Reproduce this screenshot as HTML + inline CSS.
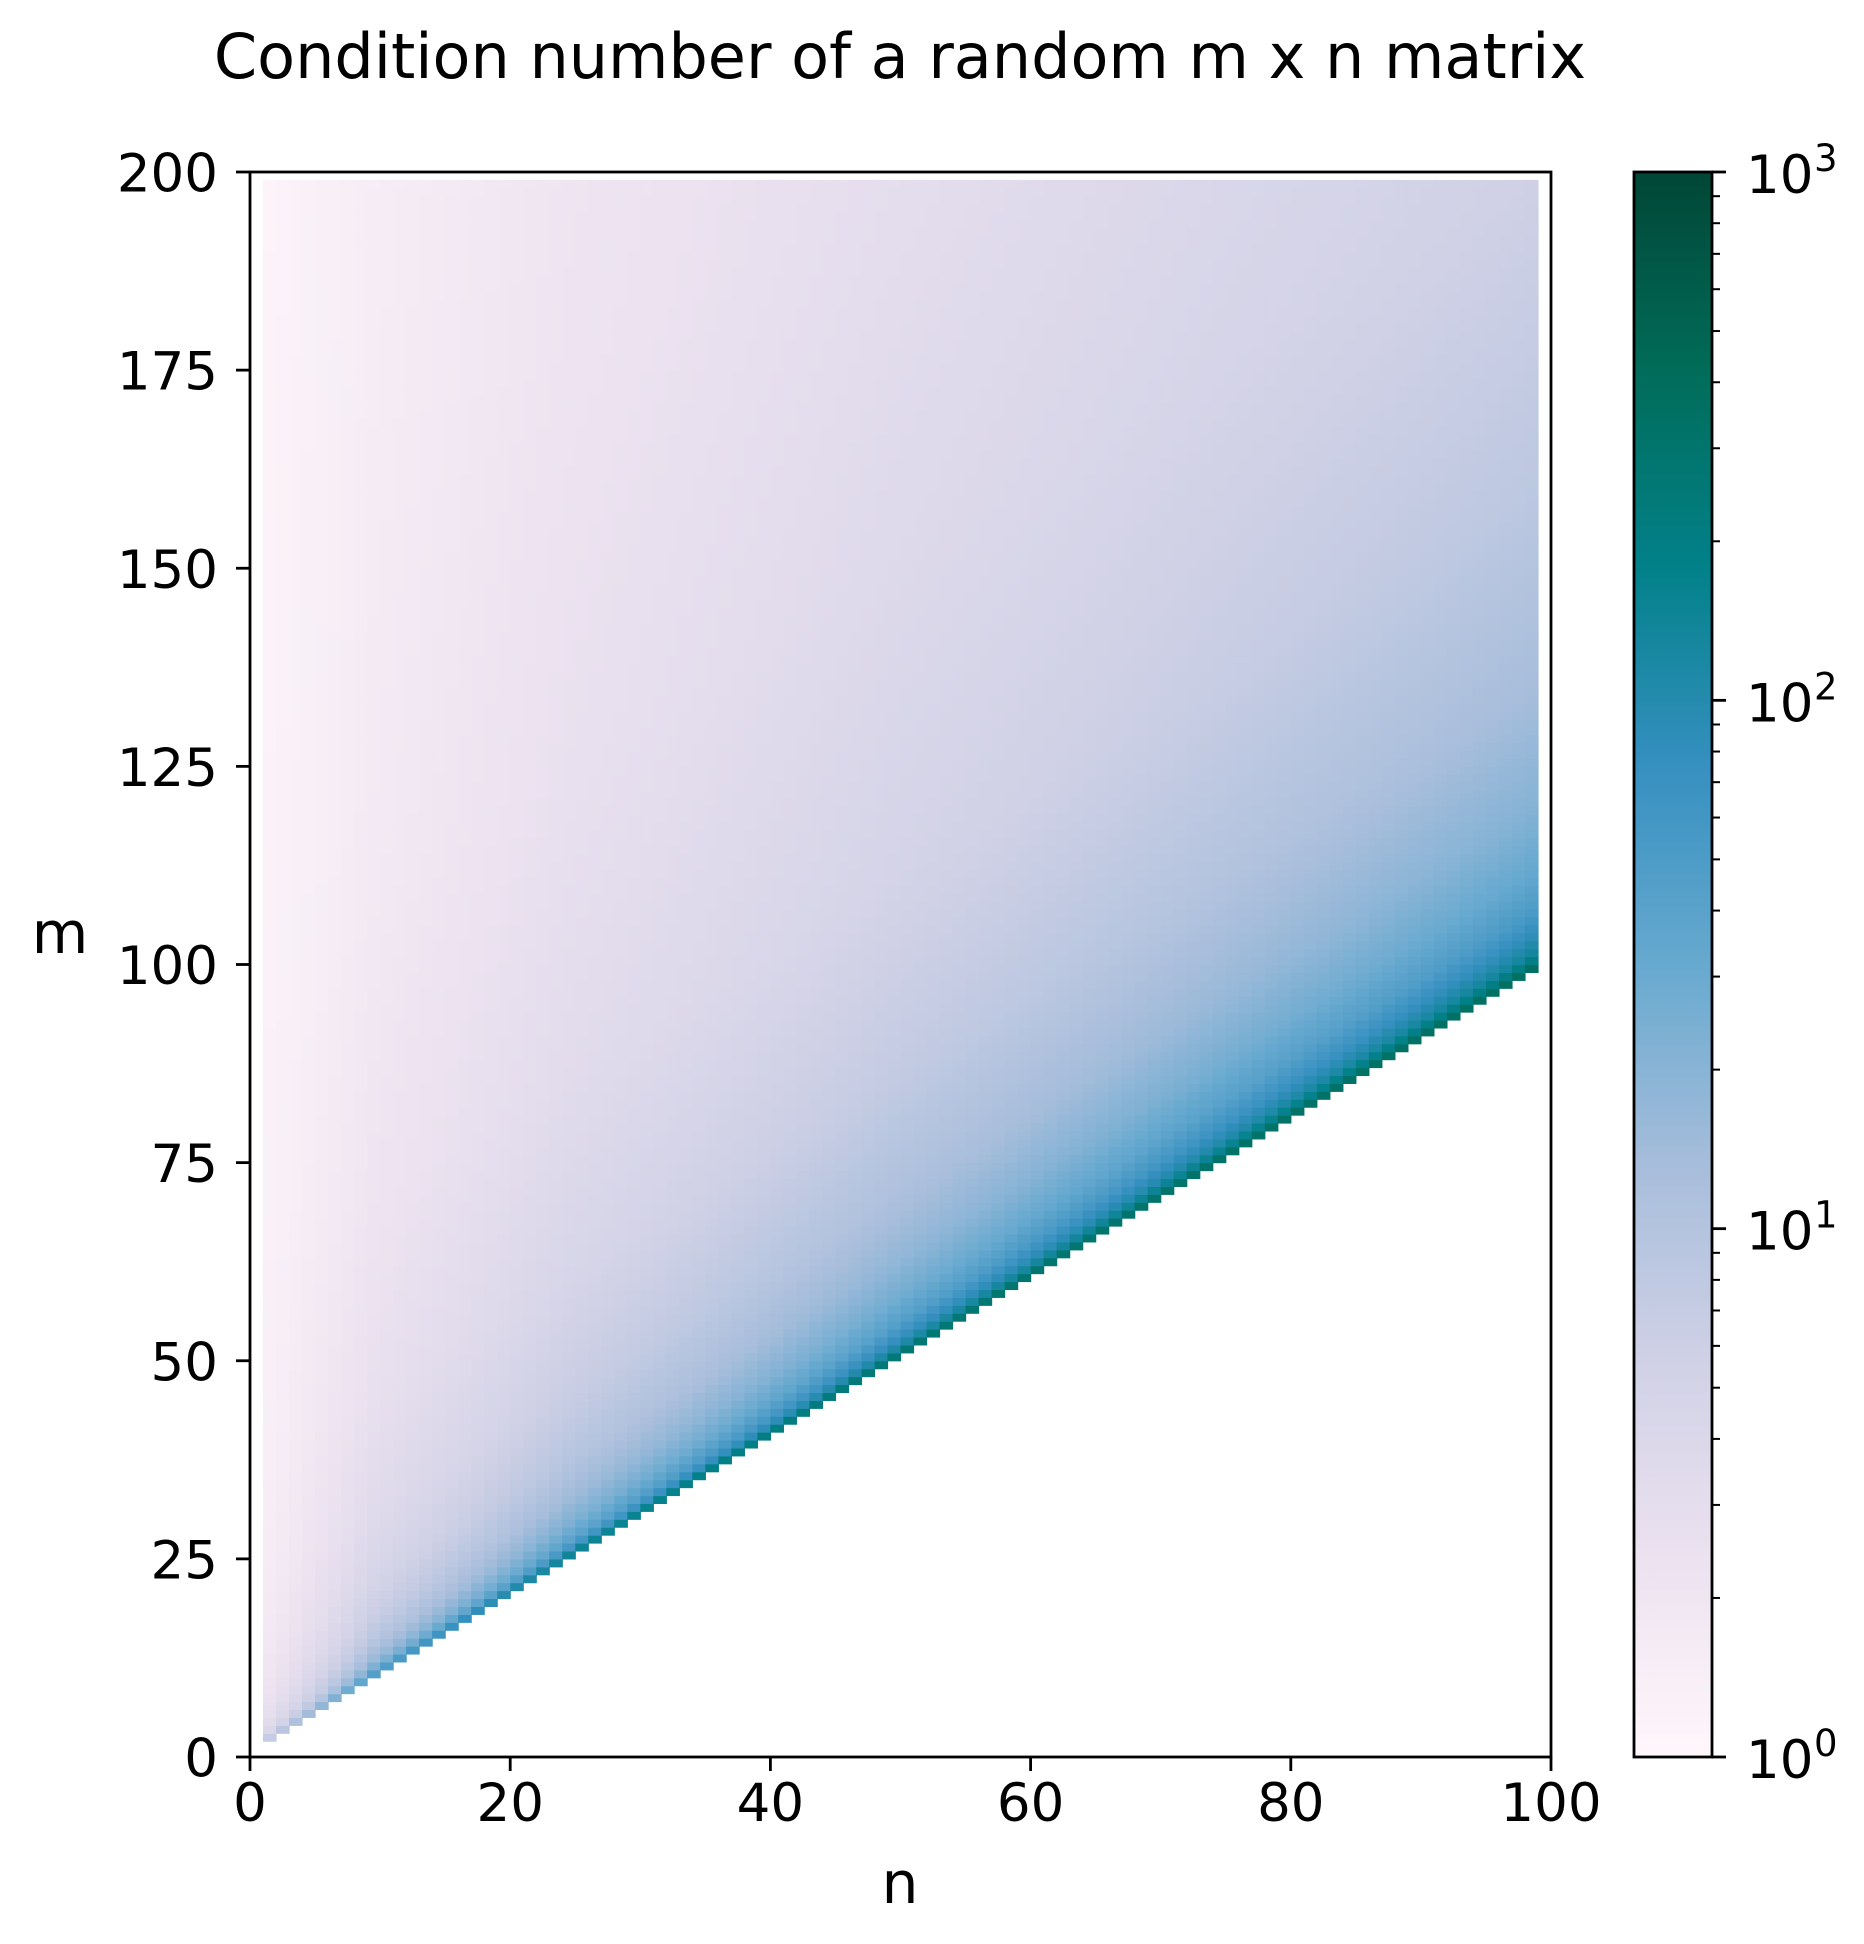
<!DOCTYPE html>
<html><head><meta charset="utf-8">
<style>
html,body{margin:0;padding:0;background:#fff;}
svg{display:block;font-family:"DejaVu Sans","Liberation Sans",sans-serif;}
</style></head>
<body>
<svg id="chart" width="1864" height="1944" viewBox="0 0 1864 1944" xmlns="http://www.w3.org/2000/svg">
<defs>
<linearGradient id="cbgrad" x1="0" y1="1" x2="0" y2="0">
<stop offset="0" stop-color="#fff7fb"/><stop offset="0.125" stop-color="#ece2f0"/><stop offset="0.25" stop-color="#d0d1e6"/><stop offset="0.375" stop-color="#a6bddb"/><stop offset="0.5" stop-color="#67a9cf"/><stop offset="0.625" stop-color="#3690c0"/><stop offset="0.75" stop-color="#02818a"/><stop offset="0.875" stop-color="#016c59"/><stop offset="1" stop-color="#014636"/>
</linearGradient>
</defs>
<text x="900" y="78" font-size="62" text-anchor="middle">Condition number of a random m x n matrix</text>
<g id="cells"></g>
<g id="axes"></g>
<g id="colorbar"></g>
<text x="900" y="1903" font-size="58" text-anchor="middle">n</text>
<text x="60" y="953" font-size="58" text-anchor="middle">m</text>
</svg>
<script>
// Data: log10(condition number) at sample column sizes n and row gaps (m - n)
const nKeys = [2, 10, 25, 50, 75, 100];
const gapKeys = [0, 1, 2, 4, 7, 12, 20, 35, 60, 100, 150, 200];
const logK_n2   = [0.85, 0.62, 0.52, 0.42, 0.34, 0.27, 0.21, 0.16, 0.12, 0.09, 0.07, 0.06];
const logK_n10  = [1.65, 1.35, 1.18, 0.98, 0.82, 0.67, 0.54, 0.42, 0.33, 0.25, 0.21, 0.18];
const logK_n25  = [2.15, 1.76, 1.57, 1.36, 1.17, 0.98, 0.82, 0.66, 0.52, 0.41, 0.34, 0.30];
const logK_n50  = [2.40, 2.05, 1.88, 1.64, 1.44, 1.24, 1.06, 0.87, 0.70, 0.57, 0.47, 0.42];
const logK_n75  = [2.50, 2.20, 2.02, 1.82, 1.61, 1.41, 1.21, 1.01, 0.83, 0.68, 0.57, 0.50];
const logK_n100 = [2.55, 2.30, 2.12, 1.94, 1.73, 1.52, 1.33, 1.12, 0.93, 0.76, 0.65, 0.58];
const xTicks = [0, 20, 40, 60, 80, 100];
const yTicks = [0, 25, 50, 75, 100, 125, 150, 175, 200];
const cbTicks = [0, 1, 2, 3];
const cmapColors = ["#fff7fb","#ece2f0","#d0d1e6","#a6bddb","#67a9cf","#3690c0","#02818a","#016c59","#014636"];

const table = [logK_n2, logK_n10, logK_n25, logK_n50, logK_n75, logK_n100];
const AX = {x0: 250, x1: 1551, y0: 1757, y1: 172};
function xs(v){ return AX.x0 + (v/100)*(AX.x1-AX.x0); }
function ys(v){ return AX.y0 - (v/200)*(AX.y0-AX.y1); }
function seg(keys, v){
  let i = 0; while (i < keys.length-2 && v > keys[i+1]) i++;
  let t = (v-keys[i])/(keys[i+1]-keys[i]); t = Math.max(0, Math.min(1, t));
  return [i, t];
}
function lookup(n, g){
  const [i, ti] = seg(nKeys, n); const [j, tj] = seg(gapKeys, g);
  const a = table[i][j]*(1-tj) + table[i][j+1]*tj;
  const b = table[i+1][j]*(1-tj) + table[i+1][j+1]*tj;
  return a*(1-ti) + b*ti;
}
function hex(c){ return [parseInt(c.slice(1,3),16),parseInt(c.slice(3,5),16),parseInt(c.slice(5,7),16)]; }
const cm = cmapColors.map(hex);
function color(lk){
  let t = Math.max(0, Math.min(1, lk/3)) * (cm.length-1);
  let k = Math.min(cm.length-2, Math.floor(t)); let f = t-k;
  const c = cm[k].map((v,q)=>Math.round(v*(1-f)+cm[k+1][q]*f));
  return "rgb("+c.join(",")+")";
}
const NS = "http://www.w3.org/2000/svg";
const cells = document.getElementById("cells");
const cw = xs(1)-xs(0), ch = ys(0)-ys(1);
for (let i = 1; i <= 98; i++){
  for (let j = i+1; j <= 198; j++){
    const n = i+1, g = j-i-1;
    const r = document.createElementNS(NS, "rect");
    
    
    r.setAttribute("x", xs(i).toFixed(2));
    r.setAttribute("y", ys(j+1).toFixed(2));
    r.setAttribute("width", (cw+0.6).toFixed(2));
    r.setAttribute("height", (ch+0.6).toFixed(2));
    r.setAttribute("fill", color(lookup(n, g)));
    cells.appendChild(r);
  }
}
const axes = document.getElementById("axes");
function el(parent, tag, attrs){ const e = document.createElementNS(NS, tag); for (const k in attrs) e.setAttribute(k, attrs[k]); parent.appendChild(e); return e; }
const frame = el(axes, "rect", {x:AX.x0, y:AX.y1, width:AX.x1-AX.x0, height:AX.y0-AX.y1, fill:"none", stroke:"#000", "stroke-width":2.8});


xTicks.forEach(v=>{
  const x = xs(v);
  const t = el(axes, "line", {x1:x, x2:x, y1:AX.y0, y2:AX.y0+14, stroke:"#000", "stroke-width":2.8});
  
  
  const l = el(axes, "text", {x:x, y:AX.y0+64, "font-size":53, "text-anchor":"middle"});
  
  
  l.textContent = v;
});
yTicks.forEach(v=>{
  const y = ys(v);
  const t = el(axes, "line", {x1:AX.x0-14, x2:AX.x0, y1:y, y2:y, stroke:"#000", "stroke-width":2.8});
  
  
  const l = el(axes, "text", {x:218, y:y+19.5, "font-size":53, "text-anchor":"end"});
  
  
  l.textContent = v;
});
// colorbar
const cb = document.getElementById("colorbar");
const CB = {x0:1634, x1:1712, y0:1757, y1:172};
function cy(lv){ return CB.y0 - (lv/3)*(CB.y0-CB.y1); }
const bar = el(cb, "rect", {x:CB.x0, y:CB.y1, width:CB.x1-CB.x0, height:CB.y0-CB.y1, fill:"url(#cbgrad)", stroke:"#000", "stroke-width":2.8});


for (let d = 0; d < 3; d++){
  for (let k = 2; k <= 9; k++){
    const y = cy(d + Math.log10(k));
    const t = el(cb, "line", {x1:CB.x1, x2:CB.x1+8, y1:y, y2:y, stroke:"#000", "stroke-width":2});
    
    
  }
}
cbTicks.forEach(v=>{
  const y = cy(v);
  const t = el(cb, "line", {x1:CB.x1, x2:CB.x1+14, y1:y, y2:y, stroke:"#000", "stroke-width":2.8});
  
  
  const l = el(cb, "text", {x:1746, y:y+21, "font-size":53});
  
  
  l.textContent = "10";
  const s = el(cb, "text", {x:1814, y:y-1, "font-size":37});
  
  
  s.textContent = v;
});
</script>
</body></html>
